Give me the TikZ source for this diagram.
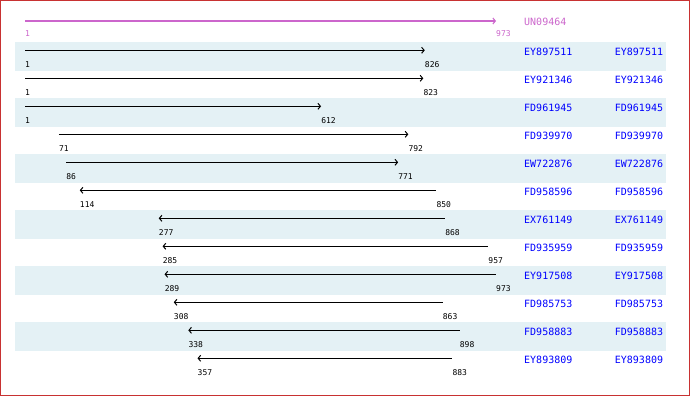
\documentclass[tikz,border=0pt]{standalone}
\usepackage{fontspec}
\newfontfamily\monofont{DejaVu Sans Mono}
\usetikzlibrary{arrows.meta}
\definecolor{band}{RGB}{228,241,245}
\definecolor{mag}{RGB}{204,102,204}
\definecolor{idblue}{RGB}{0,0,255}
\definecolor{framecol}{RGB}{200,50,50}
\begin{document}
\begin{tikzpicture}[x=1pt,y=-1pt,
  seq/.style={line width=1pt, black},
  fwd/.style={seq, -{Straight Barb[length=2.5pt,width=6pt]}},
  rev/.style={seq, {Straight Barb[length=2.5pt,width=6pt]}-},
  num/.style={anchor=west, inner sep=0pt, font=\monofont\fontsize{8}{9}\selectfont},
  idlab/.style={anchor=west, inner sep=0pt, text=idblue, font=\monofont\fontsize{10}{12}\selectfont}]
\useasboundingbox (0,0) rectangle (690,396);
\fill[white] (0,0) rectangle (690,396);
\draw[framecol, line width=1pt] (0.5,0.5) rectangle (689.5,395.5);
\foreach \i in {1,3,5,7,9,11} {
  \pgfmathsetmacro\yt{42+28*(\i-1)}
  \fill[band] (15,\yt) rectangle (666,\yt+29);
}
% reference sequence
\coordinate (s0) at (25,21);
\coordinate (e0) at (496,21);
\draw[mag, line width=2pt, -{Straight Barb[length=2.5pt,width=6pt,line width=1pt]}] (s0) -- (e0);
\node[num, text=mag] (ns0) at (25,34) {1};
\node[num, text=mag] (ne0) at (496,34) {973};
\node[idlab, text=mag] (id0) at (524,22) {UN09464};
\foreach \i/\id/\a/\b/\d in {
  1/EY897511/1/826/fwd,
  2/EY921346/1/823/fwd,
  3/FD961945/1/612/fwd,
  4/FD939970/71/792/fwd,
  5/EW722876/86/771/fwd,
  6/FD958596/114/850/rev,
  7/EX761149/277/868/rev,
  8/FD935959/285/957/rev,
  9/EY917508/289/973/rev,
  10/FD985753/308/863/rev,
  11/FD958883/338/898/rev,
  12/EY893809/357/883/rev} {
  \pgfmathsetmacro\y{50.3+28*(\i-1)}
  \pgfmathsetmacro\xa{25+(\a-1)*0.48457}
  \pgfmathsetmacro\xb{25+(\b-1)*0.48457}
  \coordinate (s\i) at (\xa,\y);
  \coordinate (e\i) at (\xb,\y);
  \draw[\d] (s\i) -- (e\i);
  \node[num] (ns\i) at (\xa,\y+14) {\a};
  \node[num] (ne\i) at (\xb,\y+14) {\b};
  \node[idlab] (id\i) at (524,\y+2) {\id};
  \node[idlab] (idb\i) at (614.7,\y+2) {\id};
}
\end{tikzpicture}
\end{document}
